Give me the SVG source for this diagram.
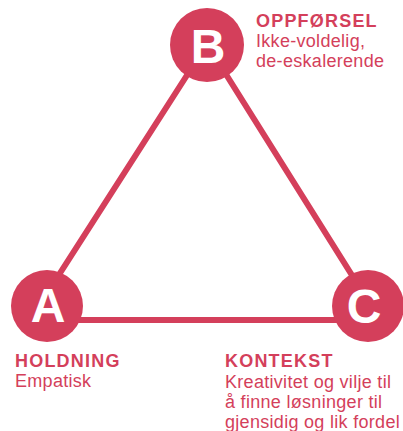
<svg xmlns="http://www.w3.org/2000/svg" width="403" height="431" viewBox="0 0 403 431">
<style>
.c{fill:#d43f5b}
.l{fill:none;stroke:#d43f5b;stroke-width:6}
.ch{font-family:"Liberation Sans",Arial,sans-serif;font-weight:bold;font-size:48px;fill:#fff;text-anchor:middle}
.t{font-family:"Liberation Sans",Arial,sans-serif;font-weight:bold;font-size:18px;fill:#d43f5b;letter-spacing:1.2px}
.b{font-family:"Liberation Sans",Arial,sans-serif;font-size:18px;fill:#d43f5b;letter-spacing:0.3px}
</style>
<rect width="403" height="431" fill="#fff"/>
<g id="connectors">
<polygon class="l" points="207,44 30,320 380,320"/>
</g>
<g id="nodeB">
<circle class="c" cx="207" cy="45" r="37"/>
<text class="ch" x="208" y="63">B</text>
<text class="t" x="256" y="27">OPPFØRSEL</text>
<text class="b" x="256" y="47">Ikke-voldelig,</text>
<text class="b" x="256" y="67">de-eskalerende</text>
</g>
<g id="nodeA">
<circle class="c" cx="47" cy="306" r="36"/>
<text class="ch" x="48" y="322">A</text>
<text class="t" x="15" y="367">HOLDNING</text>
<text class="b" x="15" y="387">Empatisk</text>
</g>
<g id="nodeC">
<circle class="c" cx="368" cy="306" r="36"/>
<text class="ch" x="364" y="323">C</text>
<text class="t" x="225" y="367">KONTEKST</text>
<text class="b" x="225" y="388">Kreativitet og vilje til</text>
<text class="b" x="225" y="408">å finne løsninger til</text>
<text class="b" x="225" y="428">gjensidig og lik fordel</text>
</g>
</svg>
